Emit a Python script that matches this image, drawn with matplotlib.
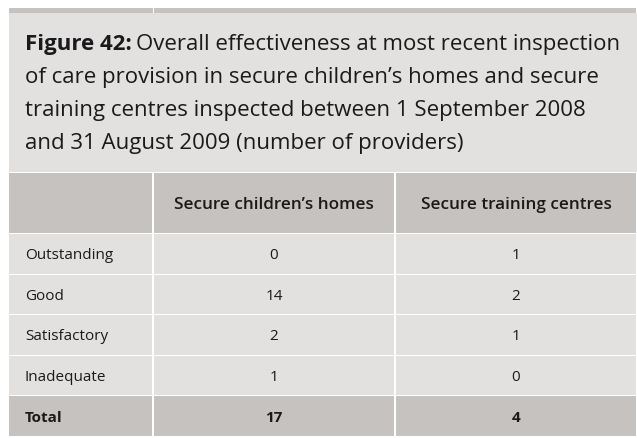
import matplotlib
matplotlib.use("Agg")
import matplotlib.pyplot as plt
from matplotlib.patches import Rectangle

# table content
title_bold = "Figure 42:"
title_rest = ("Overall effectiveness at most recent inspection\n"
              "of care provision in secure children\u2019s homes and secure\n"
              "training centres inspected between 1 September 2008\n"
              "and 31 August 2009 (number of providers)")
columns = ["Secure children\u2019s homes", "Secure training centres"]
grades = ["Outstanding", "Good", "Satisfactory", "Inadequate"]
homes = [0, 14, 2, 1]
centres = [1, 2, 1, 0]
total_label = "Total"
homes_total = 17
centres_total = 4

dark = "#c5c2c0"
light = "#e2e1e0"
txt = "#1a1a1a"
font = "Open Sans"

fig = plt.figure(figsize=(6.37, 4.39), dpi=100)
ax = fig.add_axes([0, 0, 1, 1])
ax.set_xlim(0, 637)
ax.set_ylim(439, 0)
ax.axis("off")

x0, x1, x2, x3 = 9, 153, 395, 637
gap = 1

def cell(xa, xb, ya, yb, color):
    ax.add_patch(Rectangle((xa, ya), xb - xa - gap, yb - ya - gap,
                           facecolor=color, edgecolor="none"))

# top strip and title box
cell(x0, x1 + gap, 9, 14 + gap, dark)
cell(x1 + gap, x3, 9, 14 + gap, dark)
ax.add_patch(Rectangle((x0, 14), x3 - x0, 159, facecolor=light, edgecolor="none"))

tsize = 16
bold = ax.text(25, 50, title_bold, fontsize=tsize, fontweight="bold", family=font,
               color=txt, va="baseline")
bb = bold.get_window_extent(renderer=fig.canvas.get_renderer())
first, rest = title_rest.split("\n", 1)
ax.text(bb.x1 + 4, 50, first, fontsize=tsize, family=font, color=txt,
        va="baseline")
for i, line in enumerate(rest.split("\n")):
    ax.text(25, 83 + i * 33, line, fontsize=tsize, family=font, color=txt,
            va="baseline")

# header row
hy0, hy1 = 174, 235
cell(x0, x1, hy0, hy1, dark)
cell(x1 + 1, x2, hy0, hy1, dark)
cell(x2 + 1, x3, hy0, hy1, dark)
ax.text((x1 + x2) / 2, (hy0 + hy1) / 2 + 1, columns[0], fontsize=12.3,
        fontweight="semibold", family=font, color=txt, ha="center", va="center")
ax.text((x2 + x3) / 2, (hy0 + hy1) / 2 + 1, columns[1], fontsize=12.3,
        fontweight="semibold", family=font, color=txt, ha="center", va="center")

# body rows
row_edges = [235, 276, 316, 357, 397, 438]
rows = list(zip(grades, homes, centres)) + [(total_label, homes_total, centres_total)]
for i, (g, h, c) in enumerate(rows):
    ya, yb = row_edges[i], row_edges[i + 1]
    is_total = i == len(rows) - 1
    col = dark if is_total else light
    w = "bold" if is_total else "normal"
    cell(x0, x1, ya, yb, col)
    cell(x1 + 1, x2, ya, yb, col)
    cell(x2 + 1, x3, ya, yb, col)
    ym = (ya + yb - gap) / 2 + 1
    ax.text(25, ym, g, fontsize=11, fontweight=w, family=font, color=txt,
            va="center")
    ax.text((x1 + x2) / 2, ym, str(h), fontsize=11, fontweight=w, family=font,
            color=txt, ha="center", va="center")
    ax.text((x2 + x3) / 2, ym, str(c), fontsize=11, fontweight=w, family=font,
            color=txt, ha="center", va="center")

fig.savefig("out.png", dpi=100, facecolor="white")
